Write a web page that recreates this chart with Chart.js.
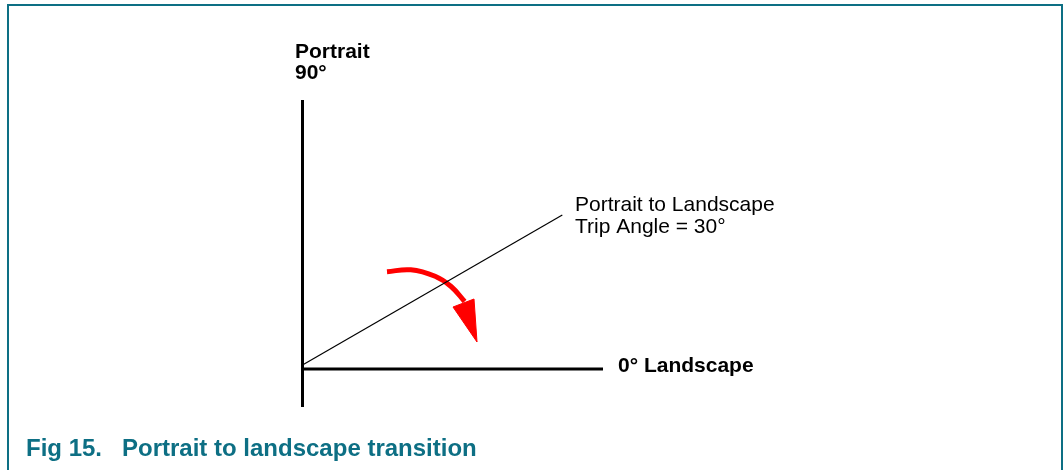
<!DOCTYPE html>
<html>
<head>
<meta charset="utf-8">
<script src="https://cdn.jsdelivr.net/npm/chart.js@4.4.1/dist/chart.umd.min.js"></script>
<style>
  html, body { margin: 0; padding: 0; background: #ffffff; }
  #wrap { position: relative; width: 1063px; height: 470px; }
</style>
</head>
<body>
<div id="wrap"><canvas id="c" width="1063" height="470"></canvas></div>
<script>
// ---- Diagram data (units: px relative to the axes' origin, y up) ----
const tripAngleDeg = 30;
const portraitAxis = [{x: 0, y: -38}, {x: 0, y: 269}];
const landscapeAxis = [{x: 0, y: 0}, {x: 300.5, y: 0}];
const tripLineStart = {x: 0, y: 4};
const tripLineLength = 300;
const rotationArc = [
  {x: 84.5, y: 97.3}, {x: 108.3, y: 99.2}, {x: 132.6, y: 92.7},
  {x: 148.6, y: 82.5}, {x: 162.1, y: 67.5}
];
const arrowHead = [
  {x: 150.5, y: 62}, {x: 174.5, y: 27}, {x: 171.5, y: 70}, {x: 150.5, y: 62}
];
// text content
const axisLabels = ['Portrait', '90\u00B0', '0\u00B0 Landscape'];
const tripLabels = ['Portrait to Landscape', 'Trip Angle = ' + tripAngleDeg + '\u00B0'];
const captionLabels = ['Fig 15.', 'Portrait to landscape transition'];

// trip-angle line end derived from angle & length
const rad = tripAngleDeg * Math.PI / 180;
const tripLine = [
  tripLineStart,
  {x: tripLineStart.x + tripLineLength * Math.cos(rad), y: tripLineStart.y + tripLineLength * Math.sin(rad)}
];

// ---- layout / style ----
const FONT = '"Liberation Sans", Arial, Helvetica, sans-serif';
const TEAL = '#0d6f84';
const labelLayout = [
  {text: axisLabels[0], x: -7.5, y: 311, font: 'bold 21px ' + FONT, color: '#000'},
  {text: axisLabels[1], x: -7.5, y: 290, font: 'bold 21px ' + FONT, color: '#000'},
  {text: axisLabels[2], x: 315.5, y: -3, font: 'bold 21px ' + FONT, color: '#000'},
  {text: tripLabels[0], x: 272.5, y: 158, font: '21px ' + FONT, color: '#000'},
  {text: tripLabels[1], x: 272.5, y: 136, font: '21px ' + FONT, color: '#000'},
  {text: captionLabels[0], x: -276.5, y: -87, font: 'bold 24px ' + FONT, color: TEAL},
  {text: captionLabels[1], x: -180.5, y: -87, font: 'bold 24px ' + FONT, color: TEAL}
];

const framePlugin = {
  id: 'frame',
  beforeDraw(chart) {
    const ctx = chart.ctx;
    ctx.save();
    ctx.fillStyle = '#ffffff';
    ctx.fillRect(0, 0, chart.width, chart.height);
    ctx.strokeStyle = TEAL;
    ctx.lineWidth = 2;
    ctx.beginPath();
    ctx.moveTo(8, 470);
    ctx.lineTo(8, 5);
    ctx.lineTo(1062, 5);
    ctx.lineTo(1062, 470);
    ctx.stroke();
    ctx.restore();
  }
};

const textPlugin = {
  id: 'texts',
  afterDatasetsDraw(chart) {
    const ctx = chart.ctx;
    const sx = chart.scales.x, sy = chart.scales.y;
    ctx.save();
    ctx.textAlign = 'left';
    ctx.textBaseline = 'alphabetic';
    labelLayout.forEach(l => {
      ctx.font = l.font;
      ctx.fillStyle = l.color;
      ctx.fillText(l.text, sx.getPixelForValue(l.x), sy.getPixelForValue(l.y));
    });
    ctx.restore();
  }
};

new Chart(document.getElementById('c'), {
  type: 'scatter',
  data: {
    datasets: [
      {label: 'Portrait axis', data: portraitAxis, showLine: true, borderColor: '#000', borderWidth: 3, pointRadius: 0},
      {label: 'Landscape axis', data: landscapeAxis, showLine: true, borderColor: '#000', borderWidth: 3, pointRadius: 0},
      {label: 'Trip angle', data: tripLine, showLine: true, borderColor: '#000', borderWidth: 1.2, pointRadius: 0},
      {label: 'Rotation', data: rotationArc, showLine: true, borderColor: '#ff0000', borderWidth: 5, pointRadius: 0, tension: 0.4},
      {label: 'Arrow head', data: arrowHead, showLine: true, borderColor: '#ff0000', backgroundColor: '#ff0000', borderWidth: 1, pointRadius: 0, fill: 'shape'}
    ]
  },
  options: {
    responsive: false,
    animation: false,
    devicePixelRatio: 1,
    layout: {padding: 0},
    plugins: {legend: {display: false}, tooltip: {enabled: false}, title: {display: false}},
    events: [],
    scales: {
      x: {type: 'linear', display: false, min: -302.5, max: 760.5},
      y: {type: 'linear', display: false, min: -101, max: 369}
    }
  },
  plugins: [framePlugin, textPlugin]
});
</script>
</body>
</html>
